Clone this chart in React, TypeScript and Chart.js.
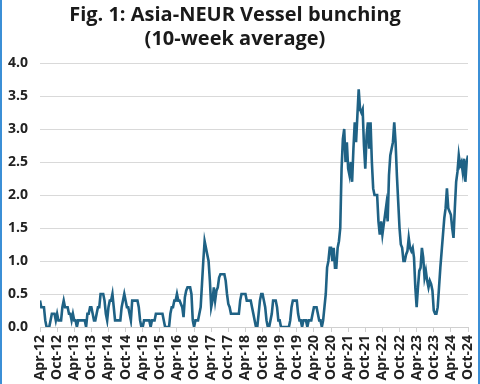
import React, { useEffect, useRef } from "react";
import { Chart, registerables } from "chart.js";

Chart.register(...registerables);

// Half-year tick labels (each step = 26 weeks)
const tickLabels = [
  "Apr-12", "Oct-12", "Apr-13", "Oct-13", "Apr-14", "Oct-14", "Apr-15", "Oct-15",
  "Apr-16", "Oct-16", "Apr-17", "Oct-17", "Apr-18", "Oct-18", "Apr-19", "Oct-19",
  "Apr-20", "Oct-20", "Apr-21", "Oct-21", "Apr-22", "Oct-22", "Apr-23", "Oct-23",
  "Apr-24", "Oct-24",
];

// Weeks between consecutive readings
const weekStep = 2;

// Vessel bunching, 10-week average, read every 2 weeks from Apr-12
const bunching = [
  0.4, 0.3, 0.3, 0.3, 0.1, 0.0, 0.0, 0.0, 0.1, 0.2, 0.2, 0.2, 0.1,
  0.2, 0.1, 0.1, 0.1, 0.3, 0.4, 0.3, 0.3, 0.3, 0.2, 0.2, 0.1, 0.2,
  0.1, 0.1, 0.0, 0.1, 0.1, 0.1, 0.1, 0.1, 0.1, 0.0, 0.2, 0.2, 0.3,
  0.3, 0.2, 0.1, 0.1, 0.2, 0.3, 0.3, 0.5, 0.5, 0.5, 0.4, 0.2, 0.1,
  0.3, 0.4, 0.4, 0.5, 0.3, 0.1, 0.1, 0.1, 0.1, 0.1, 0.3, 0.4, 0.5,
  0.4, 0.3, 0.3, 0.2, 0.1, 0.4, 0.4, 0.4, 0.4, 0.4, 0.3, 0.1, 0.0,
  0.0, 0.1, 0.1, 0.1, 0.1, 0.1, 0.0, 0.1, 0.1, 0.1, 0.2, 0.2, 0.2,
  0.2, 0.2, 0.2, 0.1, 0.0, 0.0, 0.0, 0.0, 0.2, 0.3, 0.3, 0.4, 0.4,
  0.5, 0.4, 0.4, 0.35, 0.3, 0.15, 0.45, 0.55, 0.6, 0.6, 0.6, 0.5, 0.1,
  0.0, 0.1, 0.1, 0.1, 0.2, 0.3, 0.65, 1.0, 1.3, 1.2, 1.1, 1.0, 0.7,
  0.3, 0.4, 0.6, 0.4, 0.55, 0.6, 0.75, 0.8, 0.8, 0.8, 0.8, 0.7, 0.5,
  0.35, 0.3, 0.2, 0.2, 0.2, 0.2, 0.2, 0.2, 0.2, 0.4, 0.5, 0.5, 0.5,
  0.5, 0.4, 0.4, 0.4, 0.4, 0.3, 0.2, 0.1, 0.0, 0.0, 0.2, 0.4, 0.5,
  0.5, 0.4, 0.3, 0.1, 0.0, 0.0, 0.1, 0.2, 0.4, 0.4, 0.4, 0.3, 0.1,
  0.1, 0.0, 0.0, 0.0, 0.0, 0.0, 0.0, 0.0, 0.1, 0.3, 0.4, 0.4, 0.4,
  0.4, 0.2, 0.1, 0.1, 0.0, 0.1, 0.1, 0.1, 0.0, 0.1, 0.1, 0.1, 0.2,
  0.3, 0.3, 0.3, 0.2, 0.1, 0.1, 0.0, 0.1, 0.3, 0.5, 0.9, 1.0, 1.2,
  1.2, 1.0, 1.2, 0.9, 0.9, 1.2, 1.3, 1.5, 2.4, 2.85, 3.0, 2.5, 2.8,
  2.4, 2.3, 2.5, 2.2, 2.7, 3.1, 2.8, 3.2, 3.6, 3.3, 3.25, 3.3, 2.75,
  2.4, 2.9, 3.1, 2.7, 3.1, 2.5, 2.1, 2.0, 2.0, 2.0, 1.6, 1.4, 1.6,
  1.4, 1.55, 1.7, 1.85, 1.6, 2.3, 2.6, 2.7, 2.8, 3.1, 2.8, 2.3, 1.9,
  1.5, 1.25, 1.2, 1.0, 1.0, 1.1, 1.15, 1.35, 1.2, 1.15, 1.2, 1.05, 0.6,
  0.3, 0.6, 0.85, 0.9, 1.2, 1.05, 0.75, 0.85, 0.7, 0.6, 0.7, 0.65, 0.55,
  0.25, 0.2, 0.2, 0.3, 0.6, 0.9, 1.15, 1.4, 1.65, 1.8, 2.1, 1.8, 1.75,
  1.7, 1.5, 1.35, 1.8, 2.2, 2.35, 2.6, 2.45, 2.5, 2.35, 2.55, 2.2, 2.5,
  2.6,
];

const titleLines = ["Fig. 1: Asia-NEUR Vessel bunching", "(10-week average)"];

const fontFamily = "'Open Sans', 'Noto Sans', sans-serif";

export default function App() {
  const ref = useRef<HTMLCanvasElement | null>(null);

  useEffect(() => {
    document.body.style.margin = "0";
    if (!ref.current) return;
    const points = bunching.map((v, i) => ({ x: i * weekStep, y: v }));
    const chart = new Chart(ref.current, {
      type: "line",
      data: {
        datasets: [
          {
            data: points,
            borderColor: "#1f6285",
            borderWidth: 2.6,
            pointRadius: 0,
            tension: 0,
            fill: false,
          },
        ],
      },
      options: {
        animation: false,
        responsive: false,
        maintainAspectRatio: false,
        parsing: false,
        layout: { padding: { left: 0, right: 10, top: 3, bottom: 0 } },
        plugins: {
          legend: { display: false },
          tooltip: { enabled: false },
          title: {
            display: true,
            text: titleLines,
            color: "#1a1a1a",
            font: { family: fontFamily, size: 20, weight: "bold", lineHeight: 1.2 },
            padding: { top: 0, bottom: 12 },
          },
        },
        scales: {
          x: {
            type: "linear",
            min: 0,
            max: (tickLabels.length - 1) * 26,
            afterBuildTicks: (scale: any) => {
              scale.ticks = tickLabels.map((_, i) => ({ value: i * 26 }));
            },
            ticks: {
              autoSkip: false,
              maxRotation: 90,
              minRotation: 90,
              padding: 3,
              color: "#222222",
              font: { family: fontFamily, size: 14, weight: "bold" },
              callback: (v: any) => tickLabels[Math.round(Number(v) / 26)] ?? "",
            },
            grid: { display: true, drawOnChartArea: false, drawTicks: true, tickLength: 5, color: "#d0d0d0" },
            border: { display: true, color: "#d0d0d0", width: 1 },
            afterFit: (scale: any) => {
              scale.height = 57;
              scale.paddingLeft = 0;
              scale.paddingRight = 0;
            },
          },
          y: {
            min: 0,
            max: 4,
            ticks: {
              stepSize: 0.5,
              padding: 12,
              color: "#222222",
              font: { family: fontFamily, size: 14, weight: "bold" },
              callback: (v: any) => Number(v).toFixed(1),
            },
            grid: { color: "#d9d9d9", drawTicks: false, lineWidth: 1 },
            border: { display: false },
            afterFit: (scale: any) => {
              scale.width = 38;
            },
          },
        },
      },
    });
    return () => chart.destroy();
  }, []);

  return (
    <div
      style={{
        width: 480,
        height: 384,
        position: "relative",
        boxSizing: "border-box",
        borderLeft: "2px solid #3b8fd6",
        borderRight: "2px solid #3b8fd6",
        background: "#ffffff",
        overflow: "hidden",
      }}
    >
      <canvas ref={ref} width={476} height={384} style={{ display: "block" }} />
    </div>
  );
}
